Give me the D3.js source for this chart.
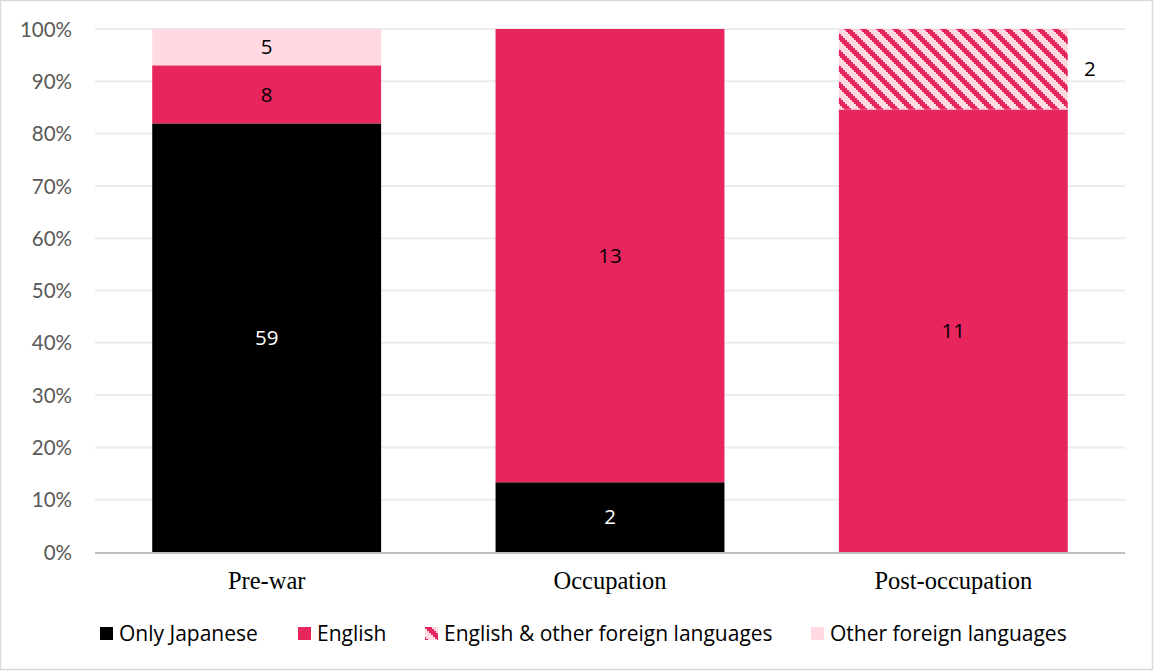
<!DOCTYPE html>
<html>
<head>
<meta charset="utf-8">
<script src="https://cdn.jsdelivr.net/npm/d3@7"></script>
<style>
  html, body { margin: 0; padding: 0; background: #fff; }
  svg { display: block; }
</style>
</head>
<body>
<svg id="chart" width="1154" height="671"></svg>
<script>
// Language of publications, by period (counts; bars show shares)
const categories = ["Pre-war", "Occupation", "Post-occupation"];
const seriesNames = ["Only Japanese", "English", "English & other foreign languages", "Other foreign languages"];
const onlyJapanese = [59, 2, 0];
const english = [8, 13, 11];
const englishAndOther = [0, 0, 2];
const otherForeign = [5, 0, 0];
const yTickValues = [0, 0.1, 0.2, 0.3, 0.4, 0.5, 0.6, 0.7, 0.8, 0.9, 1.0];

const seriesValues = [onlyJapanese, english, englishAndOther, otherForeign];
const colors = {
  "Only Japanese": "#000000",
  "English": "#E8265E",
  "English & other foreign languages": "url(#stripes)",
  "Other foreign languages": "#FFDAE2"
};
const labelColors = {
  "Only Japanese": "#ffffff",
  "English": "#000000",
  "English & other foreign languages": "#000000",
  "Other foreign languages": "#000000"
};

const rows = categories.map((c, i) => {
  const r = { category: c };
  seriesNames.forEach((s, j) => { r[s] = seriesValues[j][i]; });
  return r;
});

const svg = d3.select("#chart");
const W = 1154, H = 671;

// outer frame
svg.append("rect")
  .attr("x", 0.5).attr("y", 0.5)
  .attr("width", W - 2).attr("height", H - 2)
  .attr("fill", "#fff").attr("stroke", "#d9d9d9").attr("stroke-width", 1.5);

// diagonal hatch fill
const defs = svg.append("defs");
const pat = defs.append("pattern")
  .attr("id", "stripes")
  .attr("patternUnits", "userSpaceOnUse")
  .attr("width", 16).attr("height", 16);
pat.append("rect").attr("width", 16).attr("height", 16).attr("fill", "#FFDAE2");
d3.range(8).forEach(r => {
  [-16, 0, 16].forEach(off => {
    pat.append("rect")
      .attr("x", 2 * r + off).attr("y", 2 * r)
      .attr("width", 7).attr("height", 2)
      .attr("fill", "#E8265E")
      .attr("shape-rendering", "crispEdges");
  });
});

const plot = { left: 95, right: 1125, top: 29, bottom: 552 };

const x = d3.scaleBand()
  .domain(categories)
  .range([plot.left, plot.right])
  .paddingInner(1 / 3)
  .paddingOuter(1 / 6);

const y = d3.scaleLinear().domain([0, 1]).range([plot.bottom, plot.top]);

// gridlines
svg.append("g")
  .selectAll("line")
  .data(yTickValues.filter(d => d > 0))
  .join("line")
  .attr("x1", plot.left).attr("x2", plot.right)
  .attr("y1", d => y(d)).attr("y2", d => y(d))
  .attr("stroke", "#ececec").attr("stroke-width", 2);

// y axis labels
const yAxis = d3.axisLeft(y)
  .tickValues(yTickValues)
  .tickFormat(d3.format(".0%"))
  .tickSize(0)
  .tickPadding(0);
const gy = svg.append("g")
  .attr("transform", `translate(72,0)`)
  .call(yAxis);
gy.select(".domain").remove();
gy.selectAll("text")
  .attr("fill", "#595959")
  .attr("font-family", "Lato, 'Open Sans', sans-serif")
  .attr("font-size", 20.5)
  .attr("dy", "0.35em");

// stacked bars, normalised to 100%
const stack = d3.stack().keys(seriesNames).offset(d3.stackOffsetExpand);
const stacked = stack(rows);

const layers = svg.append("g")
  .selectAll("g")
  .data(stacked)
  .join("g")
  .attr("fill", d => colors[d.key]);

layers.selectAll("rect")
  .data(d => d.map(p => ({ key: d.key, p })))
  .join("rect")
  .attr("x", d => x(d.p.data.category))
  .attr("width", x.bandwidth())
  .attr("y", d => y(d.p[1]))
  .attr("height", d => y(d.p[0]) - y(d.p[1]));

// x axis baseline
svg.append("line")
  .attr("x1", plot.left).attr("x2", plot.right)
  .attr("y1", plot.bottom + 1).attr("y2", plot.bottom + 1)
  .attr("stroke", "#bfbfbf").attr("stroke-width", 2);

// category labels
const xAxis = d3.axisBottom(x).tickSize(0).tickPadding(0);
const gx = svg.append("g")
  .attr("transform", `translate(0,${plot.bottom})`)
  .call(xAxis);
gx.select(".domain").remove();
gx.selectAll("text")
  .attr("fill", "#000")
  .attr("font-family", "'Liberation Serif', 'Times New Roman', serif")
  .attr("font-size", 24.5)
  .attr("dy", 0)
  .attr("y", 37);

// value labels
const labels = [];
stacked.forEach(layer => {
  layer.forEach(p => {
    const v = p.data[layer.key];
    if (v > 0) labels.push({ key: layer.key, p, v });
  });
});
svg.append("g")
  .selectAll("text")
  .data(labels)
  .join("text")
  .attr("x", d => {
    const cx = x(d.p.data.category) + x.bandwidth() / 2;
    return d.key === "English & other foreign languages" ? x(d.p.data.category) + x.bandwidth() + 22 : cx;
  })
  .attr("y", d => y((d.p[0] + d.p[1]) / 2))
  .attr("dy", "0.35em")
  .attr("text-anchor", "middle")
  .attr("fill", d => labelColors[d.key])
  .attr("font-family", "'Open Sans', sans-serif")
  .attr("font-size", 20.5)
  .text(d => d.v);

// legend
const legendX = [100, 298, 425, 811];
const legend = svg.append("g")
  .selectAll("g")
  .data(seriesNames)
  .join("g")
  .attr("transform", (d, i) => `translate(${legendX[i]},627)`);
legend.append("rect")
  .attr("width", 13).attr("height", 13)
  .attr("fill", d => colors[d]);
legend.append("text")
  .attr("x", 19).attr("y", 6.5)
  .attr("dy", "0.35em")
  .attr("fill", "#000")
  .attr("font-family", "'Open Sans', sans-serif")
  .attr("font-size", 21)
  .text(d => d);
</script>
</body>
</html>
